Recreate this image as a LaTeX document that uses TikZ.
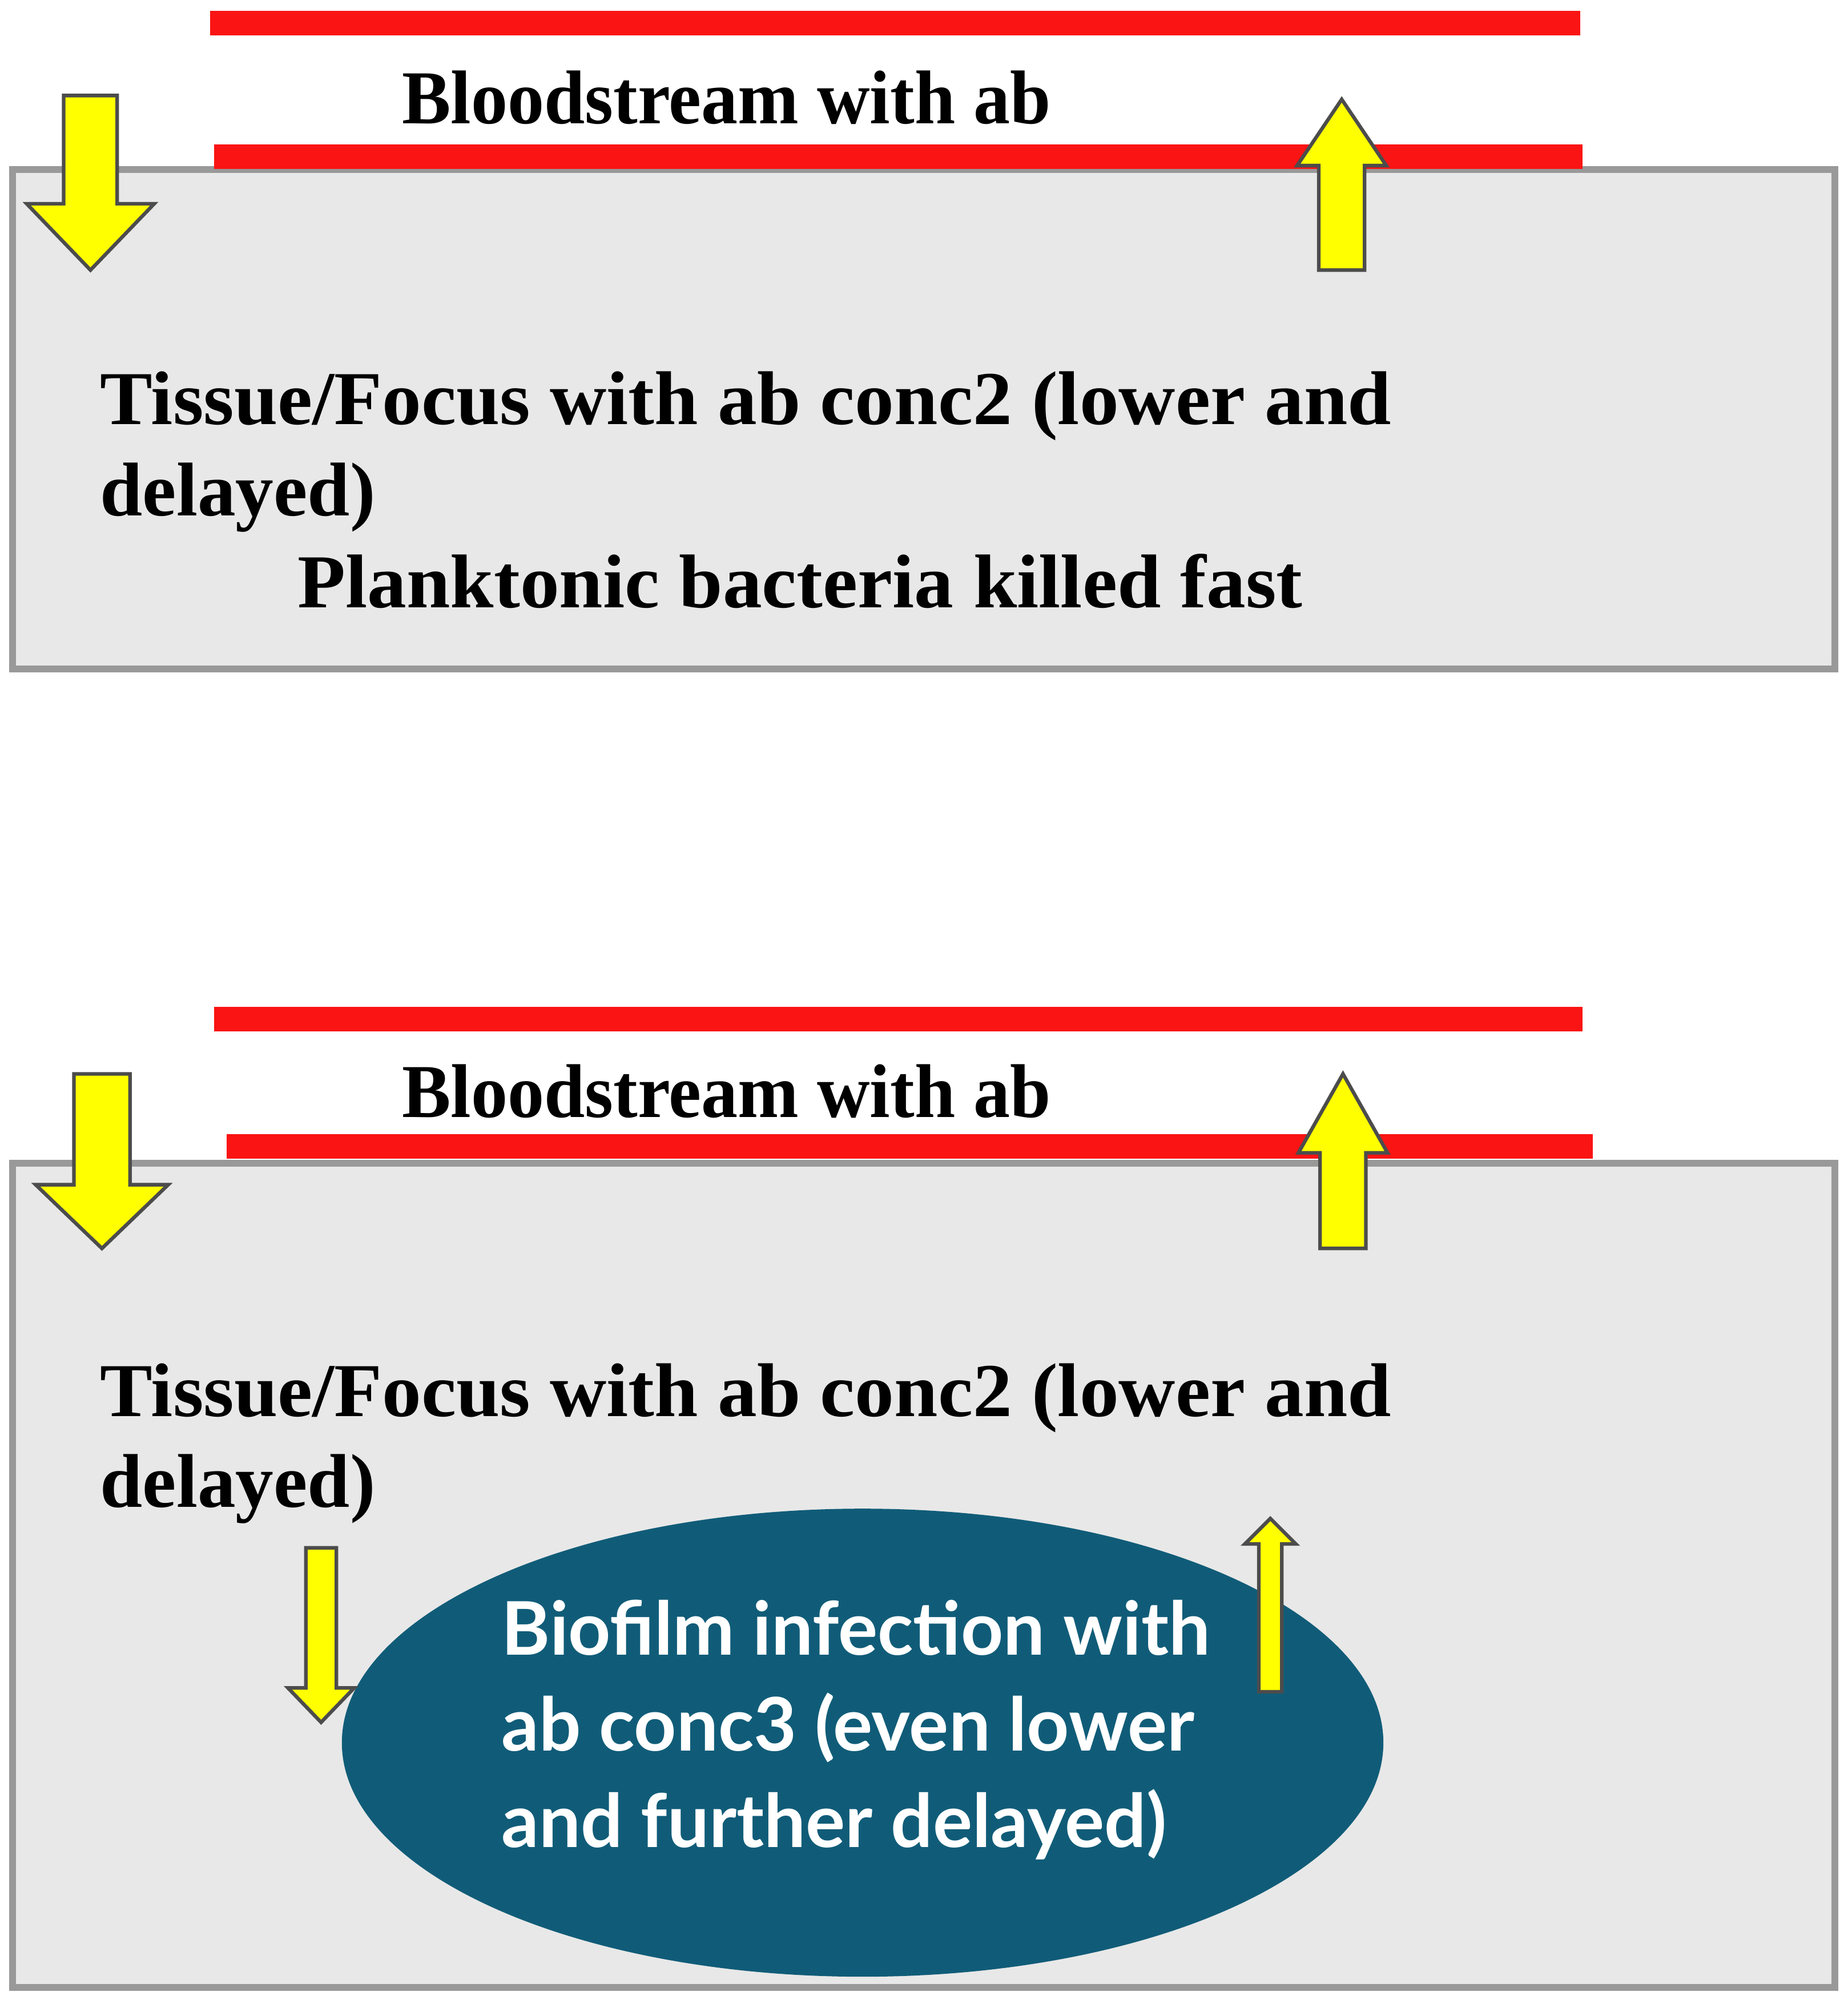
\documentclass[tikz,border=0pt]{standalone}
\usepackage{fontspec}
\setmainfont{Liberation Serif}
\newfontfamily\biofont{Lato}
\definecolor{tissuegray}{RGB}{232,232,232}
\definecolor{biofilmblue}{RGB}{16,92,120}
\definecolor{bloodred}{RGB}{250,20,20}
\definecolor{arrowyellow}{RGB}{255,255,0}
% cx, tail y, head base y, tip y, shaft half width, head half width
\newcommand\blockarrow[6]{%
  \draw[arrow part] (#1-#5,#2) -- (#1+#5,#2) -- (#1+#5,#3) -- (#1+#6,#3)
    -- (#1,#4) -- (#1-#6,#3) -- (#1-#5,#3) -- cycle;}
\begin{document}
\begin{tikzpicture}[x=0.01cm,y=-0.01cm,
        tissue/.style={draw=gray!80,line width=1.5pt,fill=tissuegray},
        vessel/.style={draw=bloodred,line width=5.5pt},
        arrow part/.style={draw=black!70,line width=0.8pt,fill=arrowyellow},
        label/.style={font=\fontsize{17}{20}\selectfont\bfseries,inner sep=0pt,anchor=base west},
        wide label/.style={label,xscale=1.03}]
    \useasboundingbox (0,0) rectangle (1450,1570);

    % upper panel
    \draw[tissue] (10,133) rectangle (1440,525);
    \draw[vessel] (165,18) -- (1240,18);
    \draw[vessel] (168,123) -- (1242,123);
    \node[label,xscale=0.96] (blood1) at (315,97) {Bloodstream with ab};
    \blockarrow{71}{75}{160}{212}{21}{50}
    \blockarrow{1053}{212}{130}{78}{18}{35}
    \node[wide label] (tissue1) at (78,333) {Tissue/Focus with ab conc2 (lower and};
    \node[label] (delay1) at (78,405) {delayed)};
    \node[wide label] (plank) at (233,477) {Planktonic bacteria killed fast};

    % lower panel
    \draw[tissue] (10,913) rectangle (1440,1560);
    \draw[vessel] (168,800) -- (1242,800);
    \draw[vessel] (178,900) -- (1250,900);
    \node[label,xscale=0.96] (blood2) at (315,877) {Bloodstream with ab};
    \blockarrow{80}{843}{930}{980}{22}{52}
    \blockarrow{1054}{980}{905}{843}{18}{35}
    \node[wide label] (tissue2) at (78,1112) {Tissue/Focus with ab conc2 (lower and};
    \node[label] (delay2) at (78,1183) {delayed)};
    \draw[fill=biofilmblue,draw=biofilmblue] (677,1368) ellipse (408 and 183);
    \node[font=\biofont\fontsize{16.5}{21.5}\selectfont\bfseries,text=white,align=left,
          anchor=north west,inner sep=0pt] (biofilm) at (393,1255)
          {Biofilm infection with\\ab conc3 (even lower\\and further delayed)};
    \blockarrow{252}{1215}{1325}{1352}{12}{26}
    \blockarrow{997}{1328}{1212}{1192}{9}{20}
\end{tikzpicture}
\end{document}
